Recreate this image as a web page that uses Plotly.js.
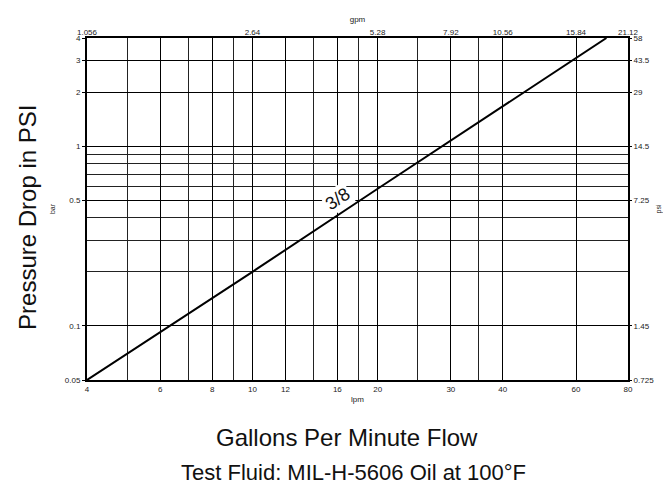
<!DOCTYPE html>
<html>
<head>
<meta charset="utf-8">
<script src="https://cdn.plot.ly/plotly-3.0.1.min.js"></script>
<style>html,body{margin:0;padding:0;background:#fff;}#chart{width:663px;height:485px;}</style>
</head>
<body>
<div id="chart"></div>
<script>
// Data
const flowLpm = [4, 10, 20, 40, 71];
const dropBar = [0.05, 0.2, 0.58, 1.67, 4];
const seriesName = '3/8';

const lpmTicks = [4, 6, 8, 10, 12, 16, 20, 30, 40, 60, 80];
const lpmMinor = [5, 7, 9, 14, 18, 25, 35];
const barTicks = [0.05, 0.1, 0.5, 1, 2, 3, 4];
const barMinor = [0.2, 0.3, 0.4, 0.6, 0.7, 0.8, 0.9];
const gpmTicks = [1.056, 2.64, 5.28, 7.92, 10.56, 15.84, 21.12];
const psiTicks = [0.725, 1.45, 7.25, 14.5, 29, 43.5, 58];

const eps = 1e-5;
const lr = (a, b) => [Math.log10(a) - eps, Math.log10(b) + eps];
const FONT = 'Liberation Sans, Arial, sans-serif';
const tickFont = {family: FONT, size: 8, color: '#222'};

const traces = [{
  x: flowLpm, y: dropBar, type: 'scatter', mode: 'lines', name: seriesName,
  line: {color: '#000', width: 2}, xaxis: 'x', yaxis: 'y', hoverinfo: 'skip'
}];

const layout = {
  width: 663, height: 485,
  margin: {l: 87, r: 35, t: 38, b: 105, pad: 0},
  paper_bgcolor: '#fff', plot_bgcolor: '#fff',
  showlegend: false,
  xaxis: {
    type: 'log', range: lr(4, 80),
    tickmode: 'array', tickvals: lpmTicks, ticktext: lpmTicks.map(String),
    tickfont: tickFont, ticks: '', showgrid: true, gridcolor: '#000', gridwidth: 1,
    minor: {tickmode: 'array', tickvals: lpmMinor, showgrid: true, gridcolor: '#222', gridwidth: 1, ticks: ''},
    showline: true, linecolor: '#000', linewidth: 2, mirror: true, zeroline: false,
    title: {text: 'lpm', font: {family: FONT, size: 8, color: '#222'}, standoff: 4}
  },
  xaxis2: {
    type: 'log', range: lr(gpmTicks[0], gpmTicks[gpmTicks.length - 1]),
    overlaying: 'x', side: 'top', anchor: 'y',
    tickmode: 'array', tickvals: gpmTicks, ticktext: gpmTicks.map(String),
    tickfont: tickFont, ticks: '', showgrid: false, zeroline: false, showline: false,
    title: {text: 'gpm', font: {family: FONT, size: 8, color: '#222'}, standoff: 4}
  },
  yaxis: {
    type: 'log', range: lr(0.05, 4),
    tickmode: 'array', tickvals: barTicks, ticktext: barTicks.map(String),
    tickfont: tickFont, ticks: 'outside', ticklen: 3, tickcolor: '#000', tickwidth: 1,
    showgrid: true, gridcolor: '#000', gridwidth: 1,
    minor: {tickmode: 'array', tickvals: barMinor, showgrid: true, gridcolor: '#222', gridwidth: 1, ticks: ''},
    showline: true, linecolor: '#000', linewidth: 2, mirror: true, zeroline: false,
    title: {text: 'bar', font: {family: FONT, size: 7, color: '#222'}, standoff: 8}
  },
  yaxis2: {
    type: 'log', range: lr(psiTicks[0], psiTicks[psiTicks.length - 1]),
    overlaying: 'y', side: 'right', anchor: 'x',
    tickmode: 'array', tickvals: psiTicks, ticktext: psiTicks.map(String),
    tickfont: tickFont, ticks: 'outside', ticklen: 3, tickcolor: '#000',
    showgrid: false, zeroline: false, showline: false,
    title: {text: 'psi', font: {family: FONT, size: 7, color: '#222'}, standoff: 8}
  },
  annotations: [
    {x: Math.log10(16), y: Math.log10(0.51), xref: 'x', yref: 'y', text: seriesName,
     showarrow: false, textangle: -33, bgcolor: '#fff', borderpad: 1,
     font: {family: FONT, size: 18, color: '#111'}},
    {x: -0.111, y: 0.5, xref: 'paper', yref: 'paper', text: 'Pressure Drop in PSI',
     showarrow: false, textangle: -90, xanchor: 'center', yanchor: 'middle', yshift: -8,
     font: {family: FONT, size: 24, color: '#111'}},
    {x: 0.48, y: 0, xref: 'paper', yref: 'paper', yshift: -57, text: 'Gallons Per Minute Flow',
     showarrow: false, xanchor: 'center', yanchor: 'middle',
     font: {family: FONT, size: 24, color: '#111'}},
    {x: 0.492, y: 0, xref: 'paper', yref: 'paper', yshift: -92, text: 'Test Fluid: MIL-H-5606 Oil at 100°F',
     showarrow: false, xanchor: 'center', yanchor: 'middle',
     font: {family: FONT, size: 22, color: '#111'}}
  ]
};

// secondary axes need a dummy trace to be drawn
traces.push({x: [gpmTicks[0]], y: [psiTicks[0]], xaxis: 'x2', yaxis: 'y2', type: 'scatter',
  mode: 'markers', marker: {opacity: 0}, hoverinfo: 'skip', showlegend: false});

Plotly.newPlot('chart', traces, layout, {displayModeBar: false, staticPlot: true});
</script>
</body>
</html>
